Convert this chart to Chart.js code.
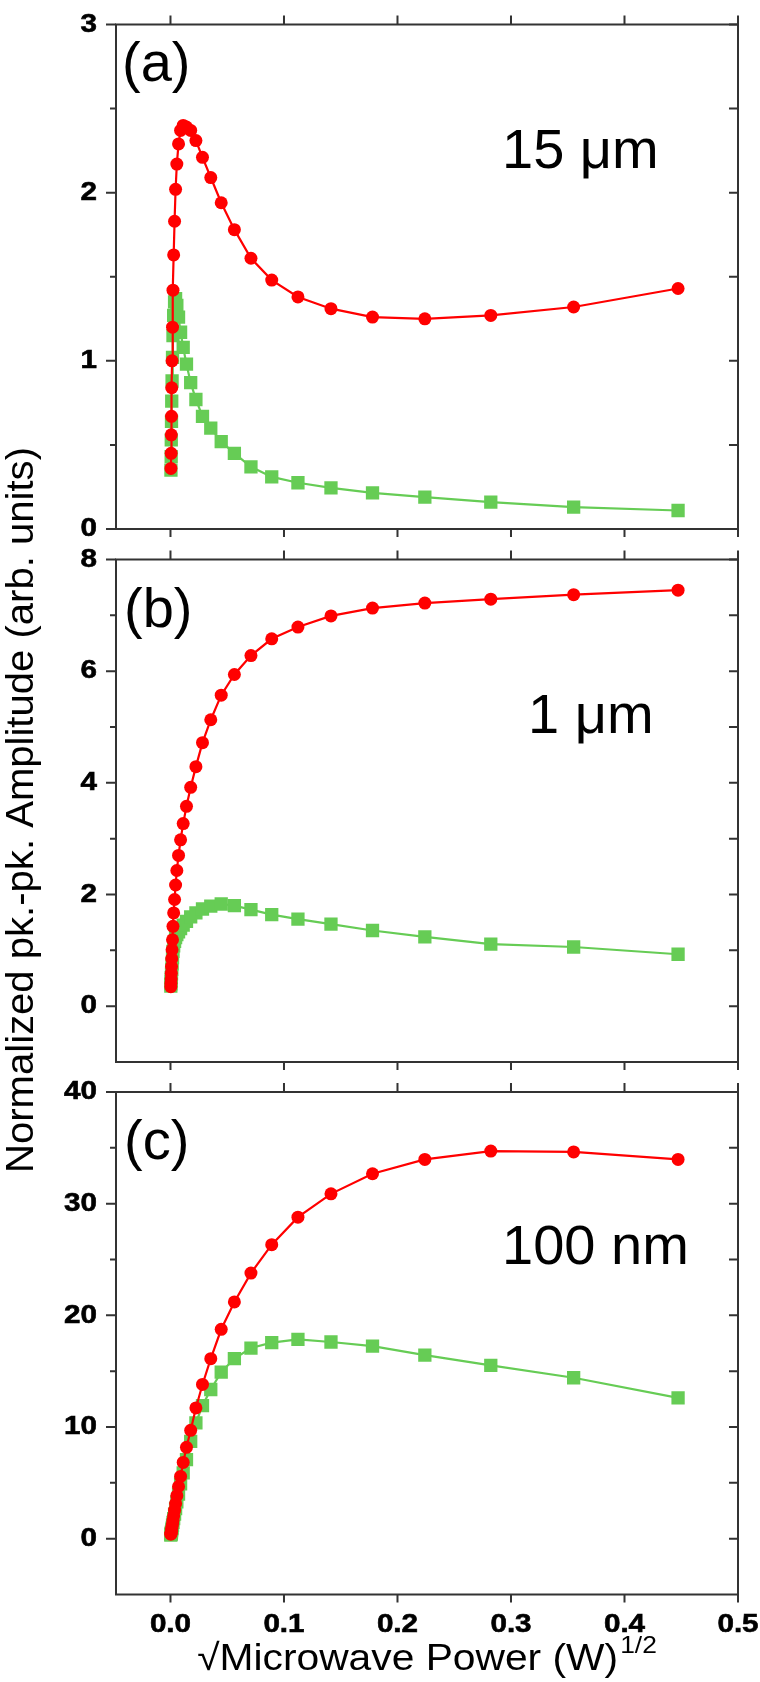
<!DOCTYPE html>
<html><head><meta charset="utf-8">
<script src="https://cdn.jsdelivr.net/npm/chart.js@4/dist/chart.umd.min.js"></script>
<style>
html,body{margin:0;padding:0;background:#fff;}
#wrap{position:relative;width:760px;height:1682px;overflow:hidden;background:#fff;}
#wrap canvas{position:absolute;left:0;top:0;}
</style></head><body>
<div id="wrap">
<canvas id="ca" width="760" height="1682"></canvas>
<canvas id="cb" width="760" height="1682"></canvas>
<canvas id="cc" width="760" height="1682"></canvas>
</div>
<script>
// sqrt(Microwave power) values, (W)^1/2
const powerX = [0.0003,0.0004,0.0006,0.0007,0.0009,0.0011,0.0014,0.0018,0.0022,0.0028,0.0036,0.0045,0.0056,0.0071,0.0089,0.0112,0.0141,0.0178,0.0224,0.0282,0.0355,0.0447,0.0563,0.0709,0.0892,0.1123,0.1414,0.1780,0.2241,0.2822,0.3552,0.4472];

// (a) 15 um
const redA   = [null,0.36,0.45,0.56,0.67,0.84,1.00,1.20,1.42,1.63,1.83,2.02,2.17,2.29,2.37,2.40,2.39,2.37,2.31,2.21,2.09,1.94,1.78,1.61,1.48,1.38,1.31,1.26,1.25,1.27,1.32,1.43];
const greenA = [null,0.35,0.43,0.53,0.64,0.76,0.88,1.02,1.15,1.27,1.35,1.37,1.33,1.26,1.17,1.08,0.98,0.87,0.77,0.67,0.60,0.52,0.45,0.37,0.31,0.275,0.245,0.215,0.19,0.16,0.13,0.11];
// (b) 1 um
const redB   = [0.35,0.41,0.49,0.59,0.71,0.85,1.01,1.19,1.43,1.67,1.91,2.17,2.43,2.70,2.98,3.27,3.58,3.92,4.29,4.72,5.13,5.57,5.94,6.28,6.58,6.79,6.99,7.13,7.22,7.29,7.37,7.45];
const greenB = [0.36,0.40,0.45,0.51,0.58,0.66,0.76,0.87,0.98,1.08,1.16,1.23,1.28,1.33,1.39,1.45,1.52,1.60,1.67,1.74,1.79,1.83,1.80,1.73,1.64,1.56,1.47,1.355,1.24,1.11,1.06,0.93];
// (c) 100 nm
const redC   = [0.40,0.45,0.52,0.62,0.75,0.90,1.10,1.35,1.65,2.05,2.55,3.15,3.85,4.67,5.57,6.83,8.18,9.70,11.71,13.81,16.12,18.75,21.2,23.78,26.33,28.79,30.88,32.68,33.96,34.71,34.63,33.96];
const greenC = [0.33,0.38,0.44,0.52,0.62,0.78,0.95,1.20,1.45,1.80,2.20,2.70,3.30,4.00,4.90,5.90,7.07,8.72,10.37,11.92,13.36,14.92,16.12,17.07,17.56,17.85,17.61,17.25,16.44,15.52,14.41,12.61];

// axes
const xRange = [-0.048, 0.5];
const xTickValues = [0.0, 0.1, 0.2, 0.3, 0.4, 0.5];
const xTickLabels = ['0.0', '0.1', '0.2', '0.3', '0.4', '0.5'];
const yRangeA = [0, 3],  yTicksA = [0, 1, 2, 3],          yMinorA = 0.5;
const yRangeB = [-1, 8], yTicksB = [0, 2, 4, 6, 8],       yMinorB = 1;
const yRangeC = [-5, 40],yTicksC = [0, 10, 20, 30, 40],   yMinorC = 5;

// texts
const panelLabels = ['(a)', '(b)', '(c)'];
const sizeLabels = ['15 \u03BCm', '1 \u03BCm', '100 nm'];
const xTitleMain = '\u221AMicrowave Power (W)';
const xTitleSup = '1/2';
const yTitle = 'Normalized pk.-pk. Amplitude (arb. units)';

const RED = '#ff0000';
const GREEN = '#66cc55';
const AXIS = '#333333';
const FONT = '"Liberation Sans", Arial, sans-serif';

function pts(ys) {
  const out = [];
  powerX.forEach((x, i) => { if (ys[i] !== null) out.push({x: x, y: ys[i]}); });
  return out;
}

function boldLabel(ctx, text, x, y) {
  ctx.save();
  ctx.translate(x, y);
  ctx.scale(1.14, 1);
  ctx.fillText(text, 0, 0);
  ctx.strokeText(text, 0, 0);
  ctx.restore();
}

const framePlugin = {
  id: 'frame',
  afterDraw(chart) {
    const o = chart.options.plugins.frame;
    const ctx = chart.ctx;
    const a = chart.chartArea;
    const xs = chart.scales.x, ys = chart.scales.y;
    ctx.save();
    ctx.strokeStyle = AXIS;
    ctx.lineWidth = 2;
    ctx.lineCap = 'butt';
    ctx.strokeRect(a.left, a.top, a.right - a.left, a.bottom - a.top);
    ctx.beginPath();
    // y ticks
    const n = Math.round((ys.max - ys.min) / o.minor);
    for (let i = 0; i <= n; i++) {
      const v = ys.min + i * o.minor;
      const isMajor = Math.abs(v / o.major - Math.round(v / o.major)) < 1e-6;
      if (i === 0 && !isMajor) continue;
      const py = ys.getPixelForValue(v);
      const len = isMajor ? 10 : 6;
      ctx.moveTo(a.left - len, py); ctx.lineTo(a.left, py);
      ctx.moveTo(a.right - 9, py); ctx.lineTo(a.right, py);
    }
    // x ticks top and bottom (outward)
    xTickValues.forEach(v => {
      const px = xs.getPixelForValue(v);
      ctx.moveTo(px, a.top - 9); ctx.lineTo(px, a.top);
      ctx.moveTo(px, a.bottom); ctx.lineTo(px, a.bottom + 8);
    });
    ctx.stroke();

    ctx.fillStyle = '#000';
    ctx.strokeStyle = '#000';
    ctx.lineWidth = 0.6;
    // y tick labels
    ctx.font = 'bold 26px ' + FONT;
    ctx.textAlign = 'right';
    ctx.textBaseline = 'middle';
    o.yTicks.forEach(v => boldLabel(ctx, String(v), a.left - 19, ys.getPixelForValue(v)));
    // x tick labels (bottom panel only)
    if (o.titles) {
      ctx.textAlign = 'center';
      ctx.textBaseline = 'alphabetic';
      xTickValues.forEach((v, i) => boldLabel(ctx, xTickLabels[i], xs.getPixelForValue(v), 1632));
    }

    // panel texts
    ctx.textAlign = 'left';
    ctx.textBaseline = 'alphabetic';
    ctx.font = '56px ' + FONT;
    ctx.fillText(o.panel, o.panelPos[0], o.panelPos[1]);
    ctx.fillText(o.size, o.sizePos[0], o.sizePos[1]);

    if (o.titles) {
      // y title, rotated, centred on the whole figure
      ctx.save();
      ctx.font = '38px ' + FONT;
      const wy = ctx.measureText(yTitle).width;
      ctx.translate(33, 810);
      ctx.rotate(-Math.PI / 2);
      ctx.scale(726 / wy, 1);
      ctx.textAlign = 'center';
      ctx.fillText(yTitle, 0, 0);
      ctx.restore();
      // x title with superscript
      ctx.save();
      ctx.font = '37px ' + FONT;
      const w1n = ctx.measureText(xTitleMain).width;
      const sx = 421 / w1n;
      const w1 = w1n * sx;
      ctx.font = '24px ' + FONT;
      const w2 = ctx.measureText(xTitleSup).width * 1.1;
      const cx = (a.left + a.right) / 2;
      const start = cx - (w1 + 2 + w2) / 2;
      ctx.save();
      ctx.translate(start, 1670);
      ctx.scale(sx, 1);
      ctx.font = '37px ' + FONT;
      ctx.fillText(xTitleMain, 0, 0);
      ctx.restore();
      ctx.save();
      ctx.translate(start + w1 + 2, 1653);
      ctx.scale(1.1, 1);
      ctx.font = '24px ' + FONT;
      ctx.fillText(xTitleSup, 0, 0);
      ctx.restore();
      ctx.restore();
    }
    ctx.restore();
  }
};

function makePanel(id, red, green, yRange, yTicks, minor, top, bottom, idx) {
  return new Chart(document.getElementById(id), {
    type: 'line',
    data: {
      datasets: [
        {data: pts(red), borderColor: RED, backgroundColor: RED, borderWidth: 2.2,
         pointStyle: 'circle', pointRadius: 6.5, pointBorderWidth: 0, pointHoverRadius: 6.5, tension: 0},
        {data: pts(green), borderColor: GREEN, backgroundColor: GREEN, borderWidth: 2.2,
         pointStyle: 'rect', pointRadius: 9.4, pointBorderWidth: 0, pointHoverRadius: 9.4, tension: 0}
      ]
    },
    options: {
      responsive: false,
      animation: false,
      devicePixelRatio: 1,
      events: [],
      layout: {padding: {left: 0, right: 22, top: top, bottom: 1682 - bottom}},
      plugins: {
        legend: {display: false},
        tooltip: {enabled: false},
        frame: {
          minor: minor, major: yTicks[1] - yTicks[0], yTicks: yTicks,
          panel: panelLabels[idx], size: sizeLabels[idx],
          panelPos: idx === 0 ? [122, 81] : (idx === 1 ? [124, 627] : [124, 1159]),
          sizePos: idx === 0 ? [502, 168] : (idx === 1 ? [528, 733] : [502, 1264]),
          titles: idx === 2
        }
      },
      scales: {
        x: {
          type: 'linear', position: 'bottom', min: xRange[0], max: xRange[1],
          afterBuildTicks: s => { s.ticks = xTickValues.map(v => ({value: v})); },
          afterFit: s => { s.height = 0; },
          grid: {display: false, drawTicks: false},
          border: {display: false},
          ticks: {display: false}
        },
        y: {
          type: 'linear', position: 'left', min: yRange[0], max: yRange[1],
          afterBuildTicks: s => { s.ticks = yTicks.map(v => ({value: v})); },
          afterFit: s => { s.width = 116; },
          grid: {display: false, drawTicks: false},
          border: {display: false},
          ticks: {display: false}
        }
      }
    },
    plugins: [framePlugin]
  });
}

makePanel('ca', redA, greenA, yRangeA, yTicksA, yMinorA, 24.5, 529, 0);
makePanel('cb', redB, greenB, yRangeB, yTicksB, yMinorB, 559.5, 1062, 1);
makePanel('cc', redC, greenC, yRangeC, yTicksC, yMinorC, 1092, 1594.5, 2);
</script>
</body></html>
